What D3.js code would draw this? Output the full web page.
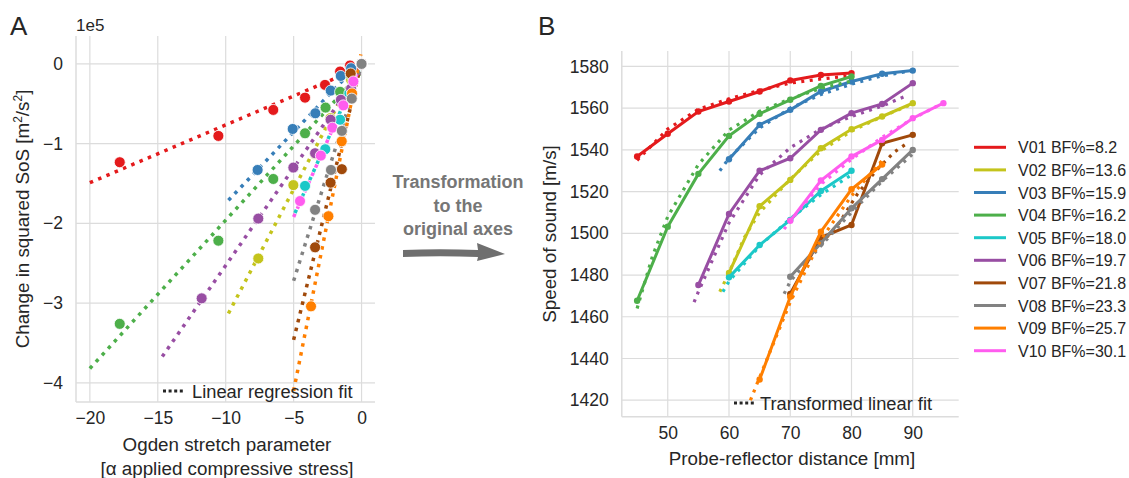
<!DOCTYPE html>
<html>
<head>
<meta charset="utf-8">
<script src="https://cdn.jsdelivr.net/npm/d3@7"></script>
<style>
  body { margin: 0; background: #fff; }
  text { font-family: "Liberation Sans", Arial, sans-serif; fill: #262626; }
</style>
</head>
<body>
<div id="wrapper"></div>
<script>
const W = 1129
const H = 478

// subjects, legend order
const subjects = ["V01", "V02", "V03", "V04", "V05", "V06", "V07", "V08", "V09", "V10"]
const bodyFat = [8.2, 13.6, 15.9, 16.2, 18.0, 19.7, 21.8, 23.3, 25.7, 30.1]
const colors = ["#e41a1c", "#c4c41c", "#377eb8", "#4daf4a", "#1cc8c8",
                "#984ea3", "#a0490a", "#828282", "#ff7f00", "#ff5cef"]
// scatter drawing order in panel A (gray ends on top at the origin)
const drawOrder = [0, 1, 2, 3, 4, 5, 6, 8, 9, 7]

// panel A: measured points (Ogden stretch parameter vs change in squared SoS, in 1e5 m²/s²)
const stretchParam = [
  [-17.8, -10.54, -6.5, -4.16, -2.69, -1.58, -0.85, 0],
  [-7.6, -5.02, -3.42, -2.3, -1.5, -0.77, 0],
  [-7.65, -5.07, -3.4, -2.27, -1.53, -0.77, 0],
  [-17.8, -10.54, -6.5, -4.16, -2.65, -1.58, -0.8, 0],
  [-4.16, -2.67, -1.58, -0.9, 0],
  [-11.77, -7.6, -5.02, -3.42, -2.28, -1.52, -0.77, 0],
  [-3.42, -2.28, -1.45, -0.8, 0],
  [-3.42, -2.25, -1.45, -0.72, 0],
  [-3.72, -2.44, -1.46, -0.7, 0],
  [-4.53, -3.0, -2.15, -1.34, -0.6, 0]
]
const dSoS2 = [
  [-1.233, -0.903, -0.577, -0.423, -0.263, -0.096, -0.02, 0],
  [-2.44, -1.52, -1.13, -0.68, -0.39, -0.2, 0],
  [-1.33, -0.816, -0.619, -0.335, -0.151, -0.054, 0],
  [-3.26, -2.217, -1.443, -0.87, -0.548, -0.35, -0.135, 0],
  [-1.53, -1.07, -0.7, -0.37, 0],
  [-2.94, -1.94, -1.3, -1.12, -0.7, -0.45, -0.31, 0],
  [-2.3, -1.49, -1.32, -0.12, 0],
  [-1.83, -1.33, -0.84, -0.435, 0],
  [-3.04, -1.91, -0.97, -0.37, 0],
  [-1.72, -1.15, -0.8, -0.52, -0.22, 0]
]
// panel A: regression fit end points
const fitStretch = [
  [-20, 0], [-9.8, 0], [-9.8, 0], [-20, 0], [-4.9, 0],
  [-14.67, 0], [-5, 0], [-5, 0], [-5, -0.05], [-5, 0]
]
const fitdSoS2 = [
  [-1.49, -0.04], [-3.13, 0.05], [-1.71, 0.04], [-3.82, -0.1], [-1.87, 0],
  [-3.67, -0.08], [-3.46, 0.02], [-2.72, -0.02], [-4.1, 0.12], [-1.92, 0]
]

// panel B: measured speed of sound vs probe-reflector distance
const distance = [
  [45, 50, 55, 60, 65, 70, 75, 80],
  [60, 65, 70, 75, 80, 85, 90],
  [60, 65, 70, 75, 80, 85, 90],
  [45, 50, 55, 60, 65, 70, 75, 80],
  [60, 65, 70, 75, 80],
  [55, 60, 65, 70, 75, 80, 85, 90],
  [70, 75, 80, 85, 90],
  [70, 75, 80, 85, 90],
  [65, 70, 75, 80, 85],
  [70, 75, 80, 85, 90, 95]
]
const sos = [
  [1536.8, 1547.7, 1558.4, 1563.2, 1568, 1573.3, 1575.9, 1576.8],
  [1481, 1513, 1525.6, 1540.8, 1549.9, 1556, 1562.4],
  [1535.5, 1552, 1559.2, 1568, 1572.8, 1576.5, 1578],
  [1467.7, 1503.2, 1528.5, 1546.7, 1557.3, 1564, 1570.7, 1575.2],
  [1478.9, 1494.4, 1506.4, 1520.3, 1530],
  [1475.2, 1509.3, 1530, 1536, 1549.6, 1557.6, 1562, 1572],
  [1471, 1498, 1504, 1543.2, 1547.2],
  [1479.2, 1495.2, 1512, 1526, 1540],
  [1429.9, 1469.6, 1500.8, 1521.1, 1533],
  [1506, 1525.3, 1536.8, 1544.8, 1555.2, 1562.4]
]
// panel B: transformed linear fit
const fitDistance = [
  [45, 50, 55, 60, 65, 70, 75, 80],
  [58.5, 60, 62.5, 65, 70, 75, 80, 85, 90],
  [58.5, 60, 65, 70, 75, 80, 85, 90],
  [45, 47.5, 50, 55, 60, 65, 70, 75, 80],
  [59, 60, 65, 70, 75, 80],
  [54.3, 55, 60, 65, 70, 75, 80, 85, 89],
  [75, 78, 81, 84, 87, 89],
  [69, 70, 75, 80, 85, 90],
  [63.5, 65, 70, 75, 80, 85],
  [69, 70, 75, 80, 85, 90, 95]
]
const fitSoS = [
  [1535, 1550, 1559.5, 1564.5, 1568.5, 1572, 1574, 1575.5],
  [1472, 1481, 1498, 1510, 1526, 1539.5, 1549, 1556, 1562],
  [1530, 1536, 1550.5, 1560, 1566.5, 1571.5, 1575.5, 1578],
  [1464, 1489, 1508, 1533, 1549.5, 1558.5, 1564.5, 1569.5, 1573],
  [1472, 1477, 1494, 1507, 1518.5, 1528],
  [1467, 1472, 1505, 1528, 1541, 1550, 1556, 1561, 1566],
  [1495, 1505, 1519, 1530, 1539, 1543],
  [1471, 1477, 1494, 1510, 1525, 1538],
  [1420, 1431, 1467, 1497, 1518, 1535],
  [1502, 1506, 1523.5, 1535.5, 1546, 1555, 1562.5]
]

const ticksAx = [-20, -15, -10, -5, 0]
const ticksAy = [0, -1, -2, -3, -4]
const ticksBx = [50, 60, 70, 80, 90]
const ticksBy = [1420, 1440, 1460, 1480, 1500, 1520, 1540, 1560, 1580]

const gridColor = "#dcdcdc"
const tickFont = 17.5
const labelFont = 18.8

const svg = d3.select("#wrapper").append("svg")
  .attr("width", W)
  .attr("height", H)

function panel(xs, ys, xt, yt, fmt) {
  const [x0, x1] = xs.range()
  const [y1, y0] = ys.range()
  const g = svg.append("g")
  g.selectAll(".gx").data(xt).enter().append("line")
    .attr("x1", d => xs(d)).attr("x2", d => xs(d))
    .attr("y1", y0).attr("y2", y1)
    .attr("stroke", gridColor).attr("stroke-width", 1.2)
  g.selectAll(".gy").data(yt).enter().append("line")
    .attr("x1", x0).attr("x2", x1)
    .attr("y1", d => ys(d)).attr("y2", d => ys(d))
    .attr("stroke", gridColor).attr("stroke-width", 1.2)
  // left and bottom spines
  g.append("line").attr("x1", x0).attr("x2", x0).attr("y1", y0).attr("y2", y1)
    .attr("stroke", gridColor).attr("stroke-width", 1.5)
  g.append("line").attr("x1", x0).attr("x2", x1).attr("y1", y1).attr("y2", y1)
    .attr("stroke", gridColor).attr("stroke-width", 1.5)

  const ax = svg.append("g").attr("transform", `translate(0,${y1 + 10})`)
    .call(d3.axisBottom(xs).tickValues(xt).tickSize(0).tickPadding(0).tickFormat(fmt))
  const ay = svg.append("g").attr("transform", `translate(${x0 - 13},0)`)
    .call(d3.axisLeft(ys).tickValues(yt).tickSize(0).tickPadding(0).tickFormat(fmt))
  ;[ax, ay].forEach(a => {
    a.select(".domain").remove()
    a.selectAll("text").attr("font-size", tickFont).attr("fill", "#262626")
      .attr("font-family", "Liberation Sans, Arial, sans-serif")
  })
  ax.selectAll("text").attr("dy", "0.71em")
  return g
}

// ---------- panel A ----------
const xA = d3.scaleLinear().domain([-21.02, 0.99]).range([76, 375])
const yA = d3.scaleLinear().domain([-4.24, 0.35]).range([402, 36])
panel(xA, yA, ticksAx, ticksAy, d3.format("d"))

const lineA = d3.line().x(d => xA(d[0])).y(d => yA(d[1]))
subjects.forEach((s, i) => {
  const pts = fitStretch[i].map((x, j) => [x, fitdSoS2[i][j]])
  svg.append("path").attr("d", lineA(pts))
    .attr("fill", "none").attr("stroke", colors[i])
    .attr("stroke-width", 3.5).attr("stroke-dasharray", "3.5,5.5")
})
drawOrder.forEach(i => {
  svg.append("g").selectAll("circle")
    .data(stretchParam[i].map((x, j) => [x, dSoS2[i][j]]))
    .enter().append("circle")
    .attr("cx", d => xA(d[0])).attr("cy", d => yA(d[1]))
    .attr("r", 5.5)
    .attr("fill", colors[i])
    .attr("stroke", "#fff").attr("stroke-width", 0.8)
})

svg.append("text").attr("x", 76).attr("y", 31).attr("font-size", 17).text("1e5")
svg.append("text").attr("x", 10).attr("y", 35).attr("font-size", 26).text("A")

svg.append("text")
  .attr("transform", `translate(29,219) rotate(-90)`)
  .attr("text-anchor", "middle").attr("font-size", labelFont)
  .call(t => {
    t.append("tspan").text("Change in squared SoS [m")
    t.append("tspan").attr("dy", -7).attr("font-size", 12).text("2")
    t.append("tspan").attr("dy", 7).text("/s")
    t.append("tspan").attr("dy", -7).attr("font-size", 12).text("2")
    t.append("tspan").attr("dy", 7).text("]")
  })
svg.append("text").attr("x", 227).attr("y", 451).attr("text-anchor", "middle")
  .attr("font-size", labelFont).text("Ogden stretch parameter")
svg.append("text").attr("x", 227).attr("y", 475).attr("text-anchor", "middle")
  .attr("font-size", labelFont).text("[α applied compressive stress]")

svg.append("line").attr("x1", 163).attr("x2", 183).attr("y1", 391).attr("y2", 391)
  .attr("stroke", "#262626").attr("stroke-width", 3).attr("stroke-dasharray", "3,2.6")
svg.append("text").attr("x", 192).attr("y", 397.5).attr("font-size", 18.3).text("Linear regression fit")

// ---------- transformation arrow ----------
svg.selectAll(".mid").data(["Transformation", "to the", "original axes"]).enter()
  .append("text")
  .attr("x", 458).attr("y", (d, i) => 188 + i * 23.5)
  .attr("text-anchor", "middle").attr("font-size", 18).attr("font-weight", "bold")
  .style("fill", "#767676")
  .text(d => d)
svg.append("path")
  .attr("d", "M403,250 Q440,248.5 478,250 L477,243 L505,254 L477,261 L478,257 Q440,255.5 403,257 Z")
  .attr("fill", "#6f6f6f")

// ---------- panel B ----------
const xB = d3.scaleLinear().domain([42.5, 97.5]).range([621.8, 958.7])
const yB = d3.scaleLinear().domain([1412.1, 1587.4]).range([416.7, 51])
panel(xB, yB, ticksBx, ticksBy, d3.format("d"))

const lineB = d3.line().x(d => xB(d[0])).y(d => yB(d[1]))
subjects.forEach((s, i) => {
  const pts = distance[i].map((x, j) => [x, sos[i][j]])
  svg.append("path").attr("d", lineB(pts))
    .attr("fill", "none").attr("stroke", colors[i]).attr("stroke-width", 3)
  svg.append("g").selectAll("circle").data(pts).enter().append("circle")
    .attr("cx", d => xB(d[0])).attr("cy", d => yB(d[1])).attr("r", 3.2)
    .attr("fill", colors[i])
  const fit = fitDistance[i].map((x, j) => [x, fitSoS[i][j]])
  svg.append("path").attr("d", lineB(fit))
    .attr("fill", "none").attr("stroke", colors[i])
    .attr("stroke-width", 3.2).attr("stroke-dasharray", "3,5.5")
})

svg.append("text").attr("x", 538).attr("y", 35).attr("font-size", 26).text("B")
svg.append("text")
  .attr("transform", `translate(556,234) rotate(-90)`)
  .attr("text-anchor", "middle").attr("font-size", labelFont)
  .text("Speed of sound [m/s]")
svg.append("text").attr("x", 792).attr("y", 465).attr("text-anchor", "middle")
  .attr("font-size", labelFont).text("Probe-reflector distance [mm]")

svg.append("line").attr("x1", 734).attr("x2", 754).attr("y1", 403).attr("y2", 403)
  .attr("stroke", "#262626").attr("stroke-width", 3).attr("stroke-dasharray", "3,2.6")
svg.append("text").attr("x", 760).attr("y", 409.5).attr("font-size", 18.3).text("Transformed linear fit")

// ---------- legend ----------
const leg = svg.append("g").selectAll("g").data(subjects).enter().append("g")
  .attr("transform", (d, i) => `translate(974,${147.3 + i * 22.6})`)
leg.append("line").attr("x1", 0).attr("x2", 32)
  .attr("stroke", (d, i) => colors[i]).attr("stroke-width", 3)
leg.append("text").attr("x", 44).attr("y", 6).attr("font-size", 16)
  .text((d, i) => `${d} BF%=${bodyFat[i].toFixed(1)}`)
</script>
</body>
</html>
